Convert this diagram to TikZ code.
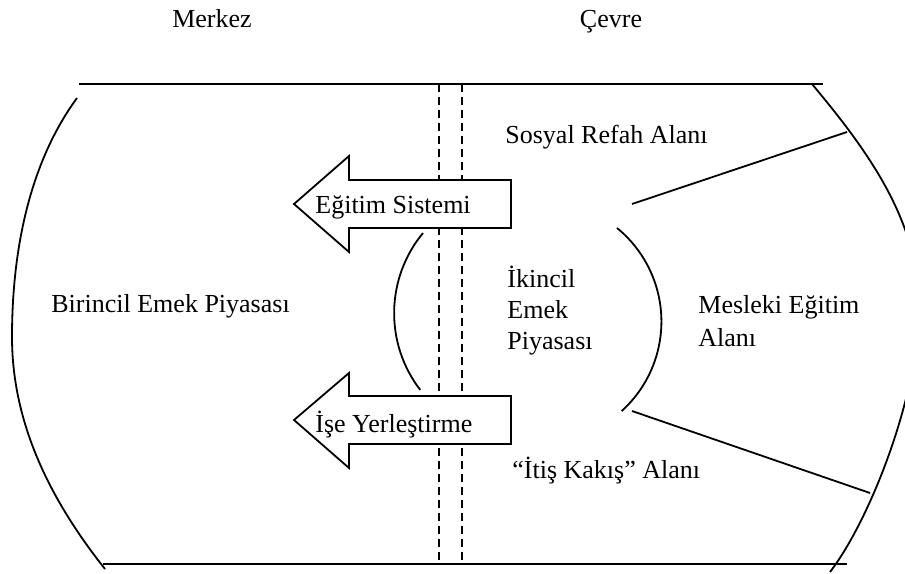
\documentclass[tikz,border=0pt]{standalone}
\usepackage{fontspec}
\setmainfont{Liberation Serif}

\tikzset{
  lbl/.style={inner sep=0pt, font=\fontsize{13}{15.5}\selectfont},
  rim/.style={line width=1.3pt},
  curve/.style={line width=0.9pt},
  divider/.style={line width=0.8pt, dash pattern=on 4pt off 2.5pt},
  flow/.style={draw, line width=0.9pt, fill=white, line join=miter},
}

\begin{document}
\begin{tikzpicture}[x=0.5pt, y=-0.5pt]
  \useasboundingbox (0,0) rectangle (905,573);
  \clip (0,0) rectangle (905,573);

  % frame
  \coordinate (topL) at (79,84);
  \coordinate (topR) at (823,84);
  \coordinate (botL) at (103,564);
  \coordinate (botR) at (847,564);
  \draw[rim] (topL) -- (topR);
  \draw[rim] (botL) -- (botR);
  \draw[curve] (77,98) .. controls (28,165) and (12,254) .. (12,337)
    .. controls (12,424) and (51,501) .. (105,569);
  \draw[curve] (812,84) .. controls (867,150) and (919,220) .. (919,307)
    .. controls (919,395) and (870,520) .. (830,572);

  % border between centre and periphery
  \coordinate (d1t) at (439,84);
  \coordinate (d1b) at (439,564);
  \coordinate (d2t) at (462,84);
  \coordinate (d2b) at (462,564);
  \draw[divider] (d1t) -- (d1b);
  \draw[divider] (d2t) -- (d2b);

  % inner arcs and wedge lines
  \draw[curve] (423,233) arc[start angle=140.4, end angle=217.6, radius=62.9pt];
  \draw[curve] (617,228) arc[start angle=50.8, end angle=-47.9, radius=60.35pt];
  \coordinate (upA) at (632,204);
  \coordinate (upB) at (847,132);
  \coordinate (loA) at (632,411);
  \coordinate (loB) at (870,493);
  \draw[curve] (upA) -- (upB);
  \draw[curve] (loA) -- (loB);

  % arrows
  \draw[flow] (294,204) -- (349,156) -- (349,180) -- (511,180) -- (511,228)
    -- (349,228) -- (349,252) -- cycle;
  \draw[flow] (294,420) -- (349,373) -- (349,396) -- (511,396) -- (511,444)
    -- (349,444) -- (349,468) -- cycle;
  \node[lbl, anchor=base west] (egitim) at (315,213) {Eğitim Sistemi};
  \node[lbl, anchor=base west] (yerles) at (315,432) {İşe Yerleştirme};

  % labels
  \node[lbl, anchor=base] (merkez) at (212,27) {Merkez};
  \node[lbl, anchor=base] (cevre) at (611,27) {Çevre};
  \node[lbl, anchor=base west] (refah) at (505,143) {Sosyal Refah Alanı};
  \node[lbl, anchor=base west] (birincil) at (51,312) {Birincil Emek Piyasası};
  \node[lbl, anchor=west, align=left] (ikincil) at (507,311) {İkincil\\Emek\\Piyasası};
  \node[lbl, anchor=west, align=left] (mesleki) at (698,321) {Mesleki Eğitim\\[1pt]Alanı};
  \node[lbl, anchor=base west] (itis) at (512,478) {“İtiş Kakış” Alanı};
\end{tikzpicture}
\end{document}
